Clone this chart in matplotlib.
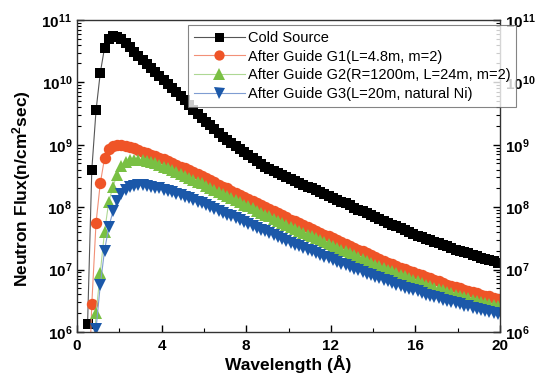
import numpy as np
import matplotlib.pyplot as plt
from matplotlib import rcParams
from matplotlib.ticker import FixedLocator, FuncFormatter, LogLocator, NullFormatter

rcParams['font.family'] = 'Liberation Sans'
rcParams['mathtext.fontset'] = 'custom'
rcParams['mathtext.bf'] = 'Liberation Sans:bold'
rcParams['mathtext.rm'] = 'Liberation Sans'

# wavelength grid (Angstrom), 0.5 ... 19.9 in 0.2 steps
wavelength = np.round(np.arange(0.5, 19.95, 0.2), 1)

# log10 of flux (n/cm^2 sec)
log_cold = [6.13, 8.60, 9.55, 10.15, 10.55, 10.70, 10.74, 10.73, 10.69, 10.63,
            10.56, 10.49, 10.42, 10.35, 10.29, 10.23, 10.16, 10.10, 10.04, 9.98,
            9.91, 9.85, 9.78, 9.71, 9.64, 9.56, 9.49, 9.43, 9.37, 9.31,
            9.25, 9.19, 9.13, 9.08, 9.03, 8.98, 8.93, 8.88, 8.83, 8.78,
            8.74, 8.69, 8.65, 8.61, 8.58, 8.55, 8.51, 8.48, 8.45, 8.42,
            8.39, 8.36, 8.33, 8.30, 8.27, 8.24, 8.21, 8.18, 8.15, 8.12,
            8.09, 8.06, 8.03, 7.99, 7.96, 7.93, 7.90, 7.87, 7.84, 7.81,
            7.78, 7.75, 7.72, 7.69, 7.66, 7.63, 7.60, 7.57, 7.54, 7.52,
            7.49, 7.47, 7.44, 7.42, 7.39, 7.37, 7.35, 7.32, 7.30, 7.28,
            7.26, 7.24, 7.21, 7.19, 7.17, 7.15, 7.13, 7.11]
log_g1 = [4.50, 6.45, 7.75, 8.38, 8.78, 8.93, 8.98, 9.00, 9.00, 8.98,
          8.96, 8.94, 8.92, 8.89, 8.87, 8.84, 8.82, 8.79, 8.77, 8.74,
          8.71, 8.68, 8.65, 8.62, 8.59, 8.56, 8.53, 8.50, 8.46, 8.43,
          8.40, 8.36, 8.33, 8.30, 8.26, 8.23, 8.20, 8.16, 8.13, 8.10,
          8.06, 8.03, 8.00, 7.97, 7.93, 7.90, 7.87, 7.84, 7.80, 7.77,
          7.74, 7.71, 7.68, 7.65, 7.62, 7.59, 7.56, 7.53, 7.50, 7.47,
          7.44, 7.41, 7.38, 7.35, 7.32, 7.29, 7.26, 7.23, 7.20, 7.17,
          7.14, 7.11, 7.09, 7.06, 7.03, 7.01, 6.98, 6.96, 6.93, 6.91,
          6.88, 6.86, 6.83, 6.81, 6.79, 6.76, 6.74, 6.72, 6.70, 6.68,
          6.66, 6.64, 6.62, 6.60, 6.58, 6.57, 6.55, 6.53]
log_g2 = [3.50, 5.00, 6.30, 6.95, 7.60, 8.08, 8.33, 8.52, 8.66, 8.72,
          8.75, 8.76, 8.76, 8.75, 8.74, 8.72, 8.70, 8.68, 8.65, 8.62,
          8.59, 8.56, 8.53, 8.50, 8.47, 8.44, 8.41, 8.38, 8.34, 8.31,
          8.28, 8.24, 8.21, 8.18, 8.14, 8.11, 8.08, 8.04, 8.01, 7.98,
          7.94, 7.91, 7.88, 7.85, 7.81, 7.78, 7.75, 7.72, 7.68, 7.65,
          7.62, 7.59, 7.56, 7.53, 7.50, 7.47, 7.44, 7.41, 7.38, 7.35,
          7.32, 7.29, 7.26, 7.23, 7.20, 7.17, 7.14, 7.11, 7.08, 7.05,
          7.02, 6.99, 6.97, 6.94, 6.91, 6.89, 6.86, 6.84, 6.81, 6.79,
          6.76, 6.74, 6.71, 6.69, 6.67, 6.64, 6.62, 6.60, 6.58, 6.56,
          6.54, 6.52, 6.50, 6.48, 6.46, 6.45, 6.43, 6.41]
log_g3 = [3.00, 4.30, 6.05, 6.75, 7.30, 7.68, 7.93, 8.10, 8.21, 8.28,
          8.32, 8.34, 8.35, 8.35, 8.34, 8.33, 8.31, 8.30, 8.28, 8.26,
          8.24, 8.21, 8.19, 8.16, 8.14, 8.11, 8.09, 8.06, 8.03, 8.00,
          7.97, 7.94, 7.91, 7.88, 7.85, 7.82, 7.79, 7.76, 7.73, 7.70,
          7.67, 7.64, 7.61, 7.58, 7.55, 7.52, 7.49, 7.46, 7.43, 7.40,
          7.37, 7.34, 7.31, 7.29, 7.26, 7.23, 7.20, 7.18, 7.15, 7.12,
          7.09, 7.07, 7.04, 7.01, 6.99, 6.96, 6.93, 6.91, 6.88, 6.86,
          6.83, 6.81, 6.78, 6.76, 6.74, 6.71, 6.69, 6.67, 6.65, 6.63,
          6.60, 6.58, 6.56, 6.54, 6.52, 6.50, 6.48, 6.46, 6.44, 6.42,
          6.41, 6.39, 6.37, 6.35, 6.34, 6.32, 6.30, 6.29]

labels = ['Cold Source',
          'After Guide G1(L=4.8m, m=2)',
          'After Guide G2(R=1200m, L=24m, m=2)',
          'After Guide G3(L=20m, natural Ni)']

fig = plt.figure(figsize=(5.37, 3.82), dpi=100)
ax = fig.add_axes([0.1434, 0.131, 0.7877, 0.817])

styles = [
    (log_cold, 's', 'black', '#555555', 7.2),
    (log_g1, 'o', '#ef5427', '#f29077', 8.2),
    (log_g2, '^', '#79c043', '#aed894', 8.8),
    (log_g3, 'v', '#1b58a9', '#7f9dd2', 8.8),
]
for (logs, mk, mc, lc, ms), lab in zip(styles, labels):
    flux = 10 ** np.array(logs)
    ax.plot(wavelength, flux, '-', color=lc, lw=0.8, marker=mk,
            markerfacecolor=mc, markeredgecolor=mc, markeredgewidth=0,
            markersize=ms, label=lab)

ax.set_yscale('log')
ax.set_xlim(0, 20)
ax.set_ylim(1e6, 1e11)

ax.xaxis.set_major_locator(FixedLocator([0, 4, 8, 12, 16, 20]))
ax.xaxis.set_minor_locator(FixedLocator([2, 6, 10, 14, 18]))
ax.xaxis.set_major_formatter(FuncFormatter(lambda v, p: '%d' % v))
ax.yaxis.set_major_locator(LogLocator(base=10, numticks=10))
ax.yaxis.set_minor_locator(LogLocator(base=10, subs=np.arange(2, 10), numticks=20))
ax.yaxis.set_minor_formatter(NullFormatter())
ax.yaxis.set_major_formatter(FuncFormatter(
    lambda v, p: r'$\mathbf{10^{%d}}$' % round(np.log10(v))))

ax.tick_params(which='both', direction='in', right=True, labelright=True,
               labelsize=11)
ax.tick_params(which='major', length=5, width=1)
ax.tick_params(which='minor', length=3, width=0.8)
ax.tick_params(axis='x', pad=5)
for t in ax.get_xticklabels():
    t.set_fontweight('bold')
for s in ax.spines.values():
    s.set_linewidth(1.0)
    s.set_color('#333333')

ax.set_xlabel('Wavelength (Å)', fontsize=12.5, fontweight='bold')
ax.set_ylabel('Neutron Flux(n/cm$\\mathbf{^2}$sec)', fontsize=12.5,
              fontweight='bold')
ax.yaxis.set_label_coords(-0.105, 0.46)
ax.xaxis.set_label_coords(0.5, -0.075)

leg = ax.legend(loc='upper left', bbox_to_anchor=(188 / 537, 1 - 25 / 382),
                bbox_transform=fig.transFigure, frameon=True, fancybox=False,
                fontsize=10.5, handlelength=3.5, handletextpad=0.2,
                labelspacing=0.32, borderpad=0.4, borderaxespad=0,
                markerscale=0.9)
leg.get_frame().set_edgecolor('#666666')
leg.get_frame().set_linewidth(0.8)
leg.set_zorder(10)

fig.savefig('out.png', dpi=100)
